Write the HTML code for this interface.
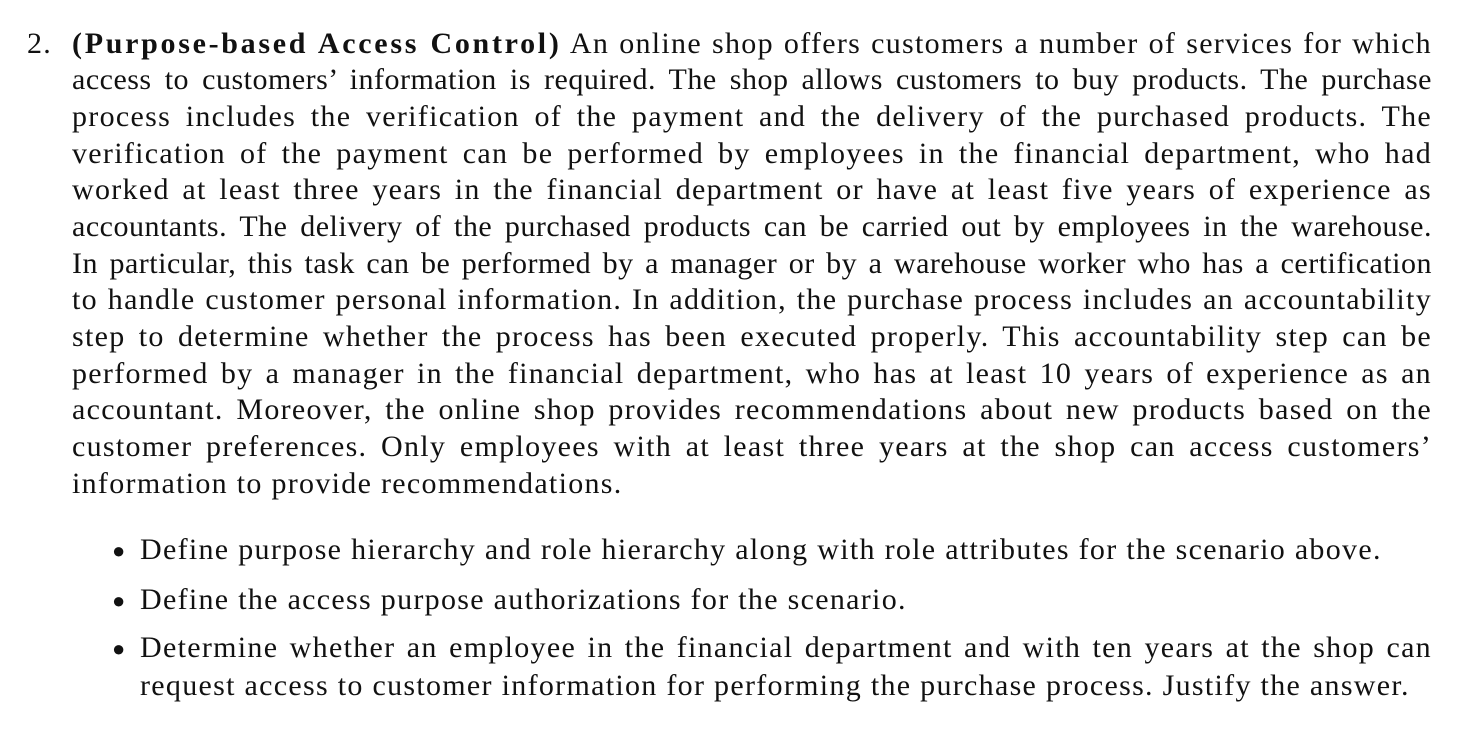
<!DOCTYPE html>
<html><head><meta charset="utf-8">
<style>
html,body{margin:0;padding:0;background:#fff;}
body{width:1476px;height:732px;position:relative;overflow:hidden;font-family:"Liberation Serif",serif;color:#111;font-size:30px;letter-spacing:1.3px;}
.l{position:absolute;left:72px;width:1360px;line-height:36px;white-space:nowrap;}
.j{text-align:justify;text-align-last:justify;}
.tight{letter-spacing:0.5px;word-spacing:-1px;}
.num{position:absolute;left:27px;line-height:36px;}
.b{position:absolute;left:112px;line-height:36px;font-size:22px;}
.bl{left:140px;width:1292px;}
</style></head>
<body>
<div class="num" style="top:26px">2.</div>
<div>
<div class="l j" style="top:26px"><b style="letter-spacing:2.7px">(Purpose-based Access Control)</b> An online shop offers customers a number of services for which</div>
<div class="l j tight" style="top:62px">access to customers’ information is required. The shop allows customers to buy products. The purchase</div>
<div class="l j" style="top:99px">process includes the verification of the payment and the delivery of the purchased products. The</div>
<div class="l j" style="top:136px">verification of the payment can be performed by employees in the financial department, who had</div>
<div class="l j" style="top:172px">worked at least three years in the financial department or have at least five years of experience as</div>
<div class="l j tight" style="top:209px">accountants. The delivery of the purchased products can be carried out by employees in the warehouse.</div>
<div class="l j tight" style="top:246px">In particular, this task can be performed by a manager or by a warehouse worker who has a certification</div>
<div class="l j" style="top:282px">to handle customer personal information. In addition, the purchase process includes an accountability</div>
<div class="l j" style="top:319px">step to determine whether the process has been executed properly. This accountability step can be</div>
<div class="l j" style="top:356px">performed by a manager in the financial department, who has at least 10 years of experience as an</div>
<div class="l j" style="top:392px">accountant. Moreover, the online shop provides recommendations about new products based on the</div>
<div class="l j" style="top:429px">customer preferences. Only employees with at least three years at the shop can access customers’</div>
<div class="l" style="top:466px">information to provide recommendations.</div>
</div>
<div>
<div class="b" style="top:533px">●</div>
<div class="l bl" style="top:532px">Define purpose hierarchy and role hierarchy along with role attributes for the scenario above.</div>
<div class="b" style="top:583px">●</div>
<div class="l bl" style="top:582px">Define the access purpose authorizations for the scenario.</div>
<div class="b" style="top:631px">●</div>
<div class="l bl j" style="top:630px">Determine whether an employee in the financial department and with ten years at the shop can</div>
<div class="l bl" style="top:668px">request access to customer information for performing the purchase process. Justify the answer.</div>
</div>
</body></html>
